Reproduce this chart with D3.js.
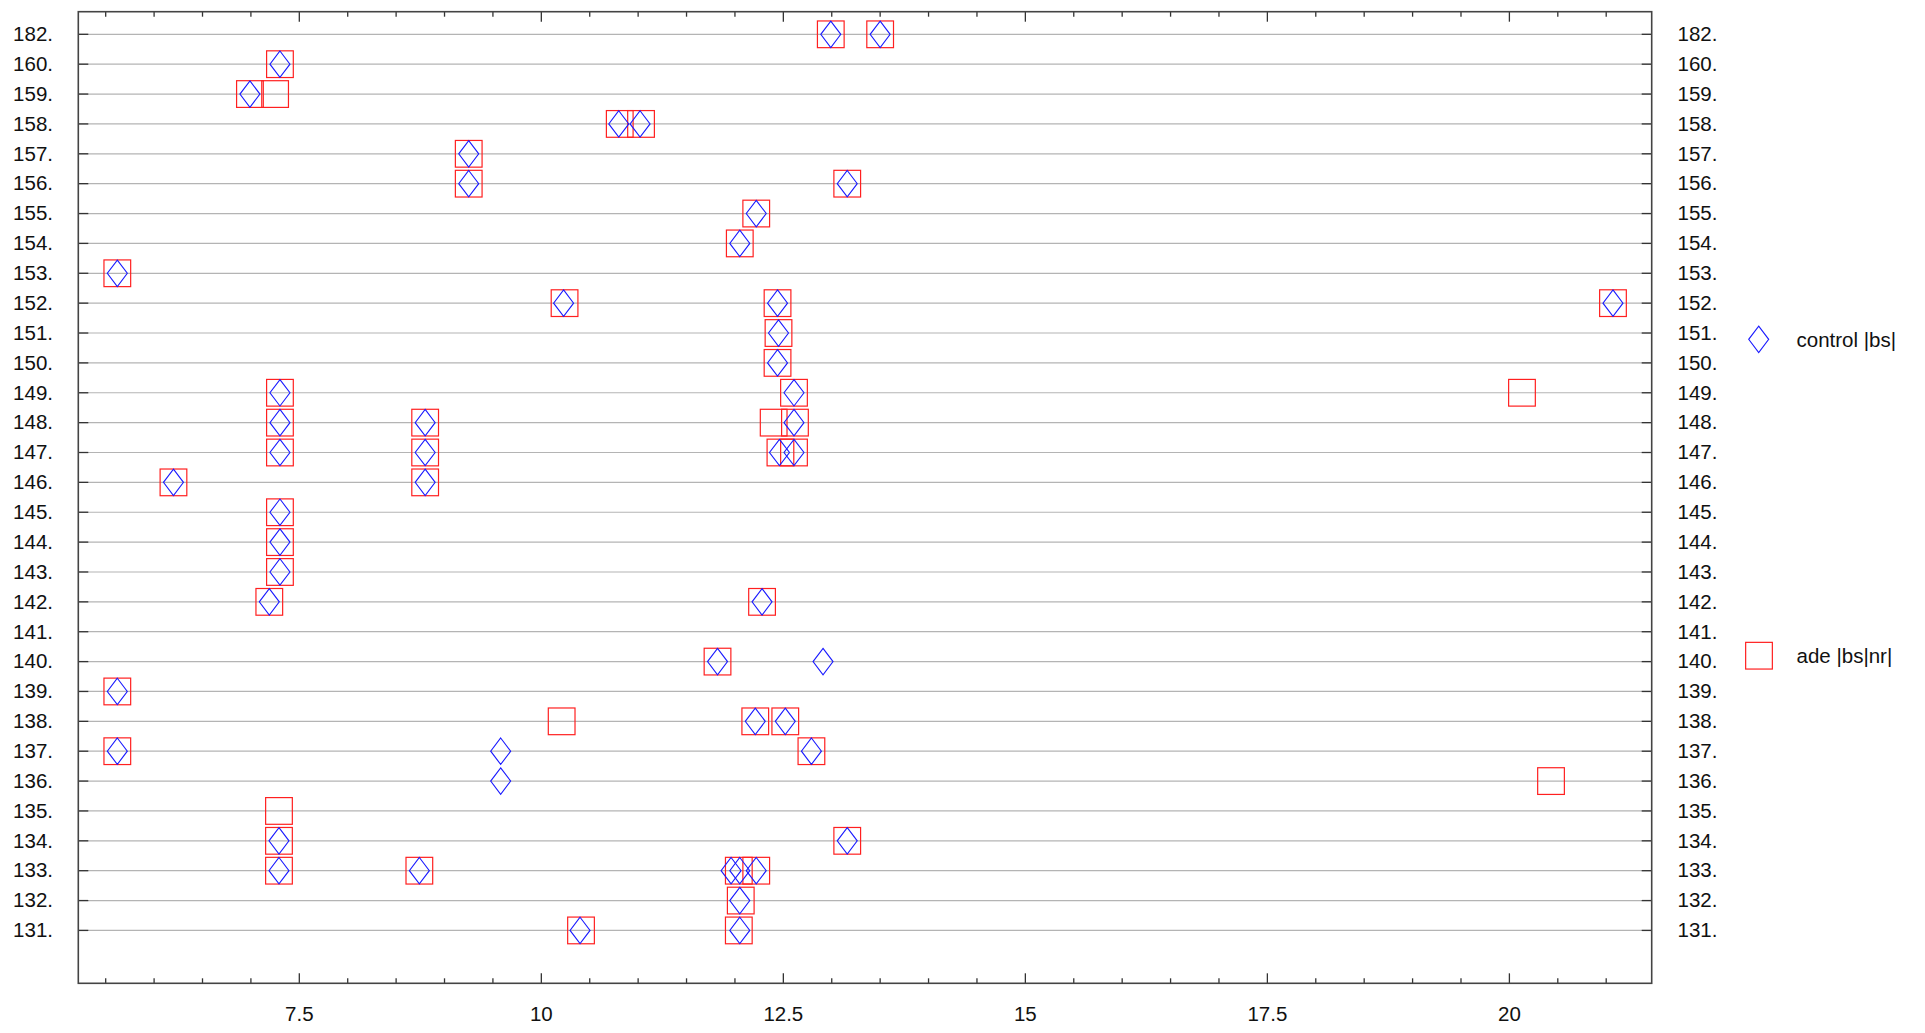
<!DOCTYPE html>
<html><head><meta charset="utf-8">
<script src="https://cdn.jsdelivr.net/npm/d3@7"></script>
<style>body{margin:0;background:#fff}svg{display:block}</style>
</head><body>
<svg id="c" width="1925" height="1033"></svg>
<script>
// Categories, top to bottom
const categories = ["182","160","159","158","157","156","155","154","153","152","151","150","149","148","147","146","145","144","143","142","141","140","139","138","137","136","135","134","133","132","131"];
const categoryLabels = categories.map(c => c + ".");

// Series "control |bs|" (diamonds): category and value
const controlCat = ["182","182","160","159","158","158","157","156","156","155","154","153","152","152","152","151","150","149","149","148","148","148","147","147","147","147","146","146","145","144","143","142","142","140","140","139","138","138","137","137","137","136","134","134","133","133","133","133","133","132","131","131"];
const controlVal = [12.99,13.50,7.30,6.99,10.80,11.02,9.25,9.25,13.16,12.22,12.05,5.62,10.23,12.44,21.07,12.45,12.44,7.30,12.61,7.30,8.80,12.61,7.30,8.80,12.46,12.61,6.20,8.80,7.30,7.30,7.30,7.19,12.28,11.82,12.91,5.62,12.21,12.52,5.62,9.58,12.79,9.58,7.29,13.16,7.29,8.74,11.96,12.05,12.22,12.05,10.40,12.05];

// Series "ade |bs|nr|" (squares)
const adeCat = ["182","182","160","159","159","158","158","157","156","156","155","154","153","152","152","152","151","150","149","149","149","148","148","148","148","147","147","147","147","146","146","145","144","143","142","142","140","139","138","138","138","137","137","136","135","134","134","133","133","133","133","132","131","131"];
const adeVal = [12.99,13.50,7.30,6.99,7.25,10.81,11.03,9.25,9.25,13.16,12.22,12.05,5.62,10.24,12.44,21.07,12.45,12.44,7.30,12.61,20.13,7.30,8.80,12.40,12.62,7.30,8.80,12.47,12.61,6.20,8.80,7.30,7.30,7.30,7.19,12.28,11.82,5.62,10.21,12.21,12.52,5.62,12.79,20.43,7.29,7.29,13.16,7.29,8.74,12.04,12.22,12.06,10.41,12.04];

const xMajorTicks = [7.5, 10, 12.5, 15, 17.5, 20];
const xTickLabels = ["7.5", "10", "12.5", "15", "17.5", "20"];
const xMinorTicks = d3.range(5.5, 21.01, 0.5);
const seriesNames = ["control |bs|", "ade |bs|nr|"];

const svg = d3.select("#c");
const L = 78.3, R = 1651.7, T = 11.7, B = 983.3;
const x = d3.scaleLinear().domain([5.217, 21.47]).range([L, R]);
const idx = d3.scaleLinear().domain([-0.757, 31.77]).range([T, B]);
const y = c => idx(categories.indexOf(c));

const font = "'Liberation Sans', Arial, sans-serif";

// grid
svg.append("g").selectAll("line").data(categories).join("line")
  .attr("x1", L).attr("x2", R).attr("y1", d => y(d)).attr("y2", d => y(d))
  .attr("stroke", "#b4b4b4").attr("stroke-width", 1.2);

// y ticks left/right
const tk = svg.append("g").attr("stroke", "#333").attr("stroke-width", 1.3);
categories.forEach(c => {
  tk.append("line").attr("x1", L).attr("x2", L + 10).attr("y1", y(c)).attr("y2", y(c));
  tk.append("line").attr("x1", R - 10).attr("x2", R).attr("y1", y(c)).attr("y2", y(c));
});
// x ticks top/bottom
xMinorTicks.forEach(v => {
  const major = xMajorTicks.includes(v);
  const len = major ? 10 : 5;
  tk.append("line").attr("x1", x(v)).attr("x2", x(v)).attr("y1", B).attr("y2", B - len);
  tk.append("line").attr("x1", x(v)).attr("x2", x(v)).attr("y1", T).attr("y2", T + len);
});

// frame
svg.append("rect").attr("x", L).attr("y", T).attr("width", R - L).attr("height", B - T)
  .attr("fill", "none").attr("stroke", "#444").attr("stroke-width", 1.6);

// labels
const lab = svg.append("g").attr("font-family", font).attr("font-size", 20.5).attr("fill", "#111");
categories.forEach((c, i) => {
  lab.append("text").attr("x", 53).attr("y", y(c) + 6.8).attr("text-anchor", "end").text(categoryLabels[i]);
  lab.append("text").attr("x", 1677.5).attr("y", y(c) + 6.8).attr("text-anchor", "start").text(categoryLabels[i]);
});
xMajorTicks.forEach((v, i) => {
  lab.append("text").attr("x", x(v)).attr("y", 1020.5).attr("text-anchor", "middle").text(xTickLabels[i]);
});

const sq = 26.7, dw = 10, dh = 13.2;
const diamond = (cx, cy) => `M${cx},${cy - dh}L${cx + dw},${cy}L${cx},${cy + dh}L${cx - dw},${cy}Z`;

// squares
svg.append("g").selectAll("rect").data(adeVal.map((v, i) => [adeCat[i], v])).join("rect")
  .attr("x", d => x(d[1]) - sq / 2).attr("y", d => y(d[0]) - sq / 2)
  .attr("width", sq).attr("height", sq)
  .attr("fill", "none").attr("stroke", "#ff2020").attr("stroke-width", 1.2);

// diamonds
svg.append("g").selectAll("path").data(controlVal.map((v, i) => [controlCat[i], v])).join("path")
  .attr("d", d => diamond(x(d[1]), y(d[0])))
  .attr("fill", "none").attr("stroke", "#1a1aff").attr("stroke-width", 1.1);

// legend
svg.append("path").attr("d", diamond(1758.7, 339.3)).attr("fill", "none").attr("stroke", "#1a1aff").attr("stroke-width", 1.1);
svg.append("rect").attr("x", 1759 - sq / 2).attr("y", 655.7 - sq / 2).attr("width", sq).attr("height", sq)
  .attr("fill", "none").attr("stroke", "#ff2020").attr("stroke-width", 1.2);
lab.append("text").attr("x", 1796.5).attr("y", 346.5).text(seriesNames[0]);
lab.append("text").attr("x", 1796.5).attr("y", 662.5).text(seriesNames[1]);
</script>
</body></html>
